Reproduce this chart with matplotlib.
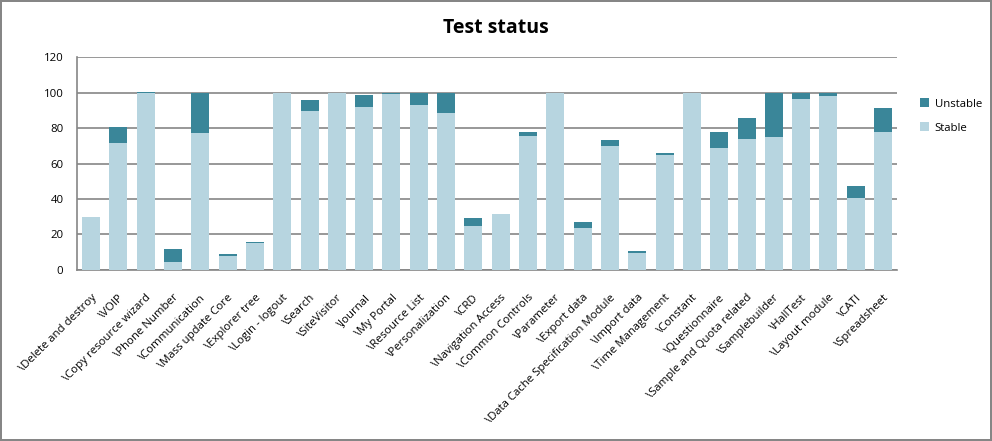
import matplotlib.pyplot as plt
import numpy as np

plt.rcParams['font.family'] = ['Open Sans', 'DejaVu Sans']

# datos
modulos = ["\\Delete and destroy", "\\VOIP", "\\Copy resource wizard", "\\Phone Number",
           "\\Communication", "\\Mass update Core", "\\Explorer tree", "\\Login - logout",
           "\\Search", "\\SiteVisitor", "\\Journal", "\\My Portal", "\\Resource List",
           "\\Personalization", "\\CRD", "\\Navigation Access", "\\Common Controls",
           "\\Parameter", "\\Export data", "\\Data Cache Specification Module",
           "\\Import data", "\\Time Management", "\\Constant", "\\Questionnaire",
           "\\Sample and Quota related", "\\Samplebuilder", "\\HallTest",
           "\\Layout module", "\\CATI", "\\Spreadsheet"]
estable = [30, 71.7, 100, 4.5, 77.3, 7.9, 15.2, 100, 89.7, 100, 92.0, 99.3, 93.1,
           88.6, 24.8, 31.6, 75.6, 100, 23.7, 70.0, 9.6, 64.9, 100, 68.8, 73.9,
           75.0, 96.5, 98.2, 40.6, 77.9]
inestable = [0, 9.0, 0.3, 7.3, 22.7, 1.1, 0.6, 0, 6.2, 0, 6.7, 0.7, 6.9, 11.4, 4.5,
             0, 2.3, 0, 3.4, 3.4, 1.1, 1.1, 0, 9.1, 11.9, 25.0, 3.5, 1.8, 6.8, 13.5]

color_estable = "#b7d5e0"
color_inestable = "#3a8699"
gris = "#868686"

fig = plt.figure(figsize=(9.92, 4.41), dpi=100, edgecolor=gris, linewidth=1.5)
ax = fig.add_axes([0.078, 0.388, 0.826, 0.482])

x = np.arange(len(modulos))
ax.bar(x, estable, width=0.66, color=color_estable, label="Stable", zorder=3)
ax.bar(x, inestable, width=0.66, bottom=estable, color=color_inestable,
       label="Unstable", zorder=3)

ax.set_xlim(-0.5, len(modulos) - 0.5)
ax.set_ylim(0, 120)
ax.set_yticks(range(0, 121, 20))
ax.yaxis.grid(True, color=gris, linewidth=1.2, zorder=0)
ax.set_xticks(x)
ax.set_xticklabels(modulos, rotation=45, ha="right", rotation_mode="anchor",
                   fontsize=8.2)
ax.tick_params(axis="both", length=0, labelsize=8.2)
ax.tick_params(axis="x", pad=16)
ax.tick_params(axis="y", pad=10)

for lado in ["top", "right"]:
    ax.spines[lado].set_visible(False)
for lado in ["left", "bottom"]:
    ax.spines[lado].set_color(gris)
    ax.spines[lado].set_linewidth(1.2)

fig.suptitle("Test status", fontsize=14, fontweight="bold", y=0.937, va="center")

handles, labels = ax.get_legend_handles_labels()
fig.legend(handles[::-1], labels[::-1], loc="upper left",
           bbox_to_anchor=(0.917, 0.80), frameon=False, fontsize=8.2,
           handlelength=0.8, handleheight=0.8, handletextpad=0.5,
           labelspacing=1.1)

fig.savefig("out.png", dpi=100)
